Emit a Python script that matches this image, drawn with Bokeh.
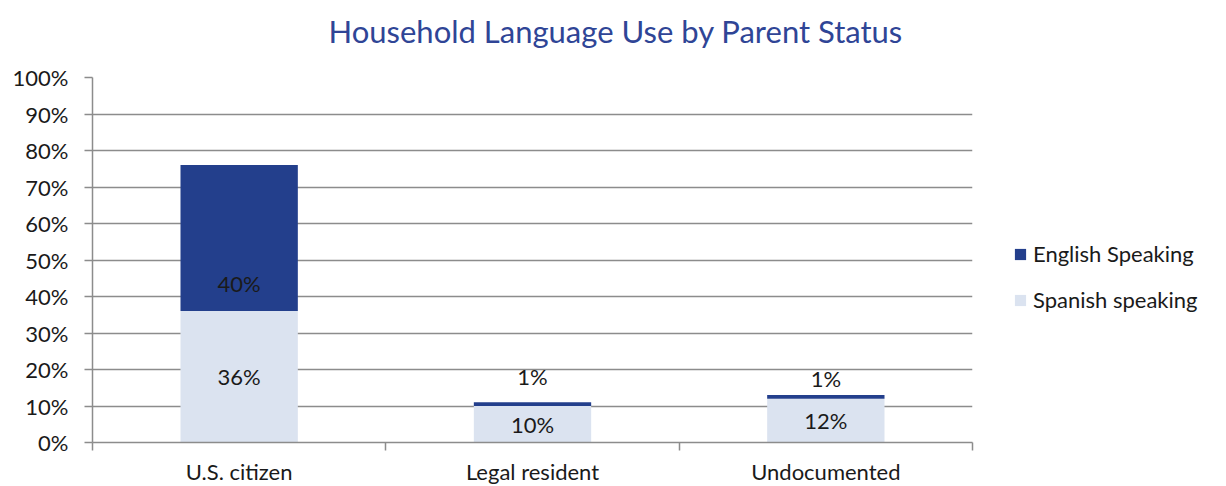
from bokeh.plotting import figure
from bokeh.models import (ColumnDataSource, FixedTicker, Legend, LegendItem, Title,
                          NumeralTickFormatter, Range1d)
from bokeh.core.properties import value
from bokeh.embed import file_html
from bokeh.resources import INLINE

# ---- data ----
categories = ["U.S. citizen", "Legal resident", "Undocumented"]
spanish = [0.36, 0.10, 0.12]
english = [0.40, 0.01, 0.01]
spanish_labels = ["36%", "10%", "12%"]
english_labels = ["40%", "1%", "1%"]
y_ticks = [0.0, 0.1, 0.2, 0.3, 0.4, 0.5, 0.6, 0.7, 0.8, 0.9, 1.0]

# ---- style ----
FONT = "Lato"
DARK = "#233f8c"
LIGHT = "#dbe3f0"
GRID = "#8c8c8c"
TXT = "#1a1a1a"
FS = "22px"

n = len(categories)
xs = [i + 0.5 for i in range(n)]
tops = [s + e for s, e in zip(spanish, english)]

p = figure(width=1226, height=486, output_backend="svg", toolbar_location=None,
           x_range=Range1d(0, n), y_range=Range1d(0, 1.0),
           frame_width=880, frame_height=365)
p.min_border_left = 92
p.min_border_right = 254
p.min_border_top = 77
p.min_border_bottom = 44
p.outline_line_color = None
p.background_fill_color = "white"
p.border_fill_color = "white"

src = ColumnDataSource(dict(x=xs, spanish=spanish, english=english, top=tops,
                            zero=[0] * n,
                            sl=spanish_labels, el=english_labels,
                            sy=[s / 2 for s in spanish]))

r_sp = p.vbar(x="x", bottom="zero", top="spanish", width=0.4, source=src,
              fill_color=LIGHT, line_color=None)
r_en = p.vbar(x="x", bottom="spanish", top="top", width=0.4, source=src,
              fill_color=DARK, line_color=None)

# labels
p.text(x="x", y="sy", text="sl", source=src, text_align="center", text_baseline="middle",
       text_font=value(FONT), text_font_size=FS, text_color=TXT)
en_offsets = [-28, -26, -17]  # pixel placement of the English labels (layout only)
for i in range(n):
    base = spanish[i] if english[i] > 0.05 else tops[i]
    p.text(x=[xs[i]], y=[base], text=[english_labels[i]], text_align="center",
           text_baseline="middle", y_offset=en_offsets[i],
           text_font=value(FONT), text_font_size=FS, text_color=TXT)

# y axis
p.yaxis.ticker = FixedTicker(ticks=y_ticks)
p.yaxis.formatter = NumeralTickFormatter(format="0%")
p.yaxis.major_label_text_font = FONT
p.yaxis.major_label_text_font_size = FS
p.yaxis.major_label_text_color = TXT
p.yaxis.axis_line_color = GRID
p.yaxis.axis_line_width = 1.5
p.yaxis.major_tick_line_color = GRID
p.yaxis.major_tick_line_width = 1.5
p.yaxis.major_tick_out = 8
p.yaxis.major_tick_in = 0
p.yaxis.minor_tick_line_color = None
p.yaxis.major_label_standoff = 16

# x axis
p.xaxis.ticker = FixedTicker(ticks=xs, minor_ticks=[float(i) for i in range(n + 1)])
p.xaxis.major_label_overrides = {x: c for x, c in zip(xs, categories)}
p.xaxis.major_label_text_font = FONT
p.xaxis.major_label_text_font_size = FS
p.xaxis.major_label_text_color = TXT
p.xaxis.axis_line_color = GRID
p.xaxis.axis_line_width = 1.5
p.xaxis.major_tick_line_color = None
p.xaxis.major_tick_out = 0
p.xaxis.major_tick_in = 0
p.xaxis.minor_tick_line_color = GRID
p.xaxis.minor_tick_line_width = 1.5
p.xaxis.minor_tick_out = 8
p.xaxis.minor_tick_in = 0
p.xaxis.major_label_standoff = 7

p.xgrid.grid_line_color = None
p.ygrid.grid_line_color = GRID
p.ygrid.grid_line_width = 1.5

# legend in the right panel
legend = Legend(items=[LegendItem(label="English Speaking", renderers=[r_en]),
                       LegendItem(label="Spanish speaking", renderers=[r_sp])],
                location=(41, 129))
legend.label_text_font = FONT
legend.label_text_font_size = FS
legend.label_text_color = TXT
legend.glyph_width = 14
legend.glyph_height = 14
legend.spacing = 19
legend.label_standoff = 6
legend.border_line_color = None
legend.background_fill_alpha = 0
legend.margin = 0
legend.padding = 0
p.add_layout(legend, "right")

# spacer between frame and title, then the title itself
p.add_layout(Title(text=" ", text_font_size="1px", standoff=25), "above")
p.add_layout(Title(text="Household Language Use by Parent Status", align="left",
                   offset=236, vertical_align="bottom", standoff=0,
                   text_font=FONT, text_font_size="31px", text_font_style="normal",
                   text_color="#2f4596"), "above")

open("out.html", "w").write(file_html(p, INLINE))
